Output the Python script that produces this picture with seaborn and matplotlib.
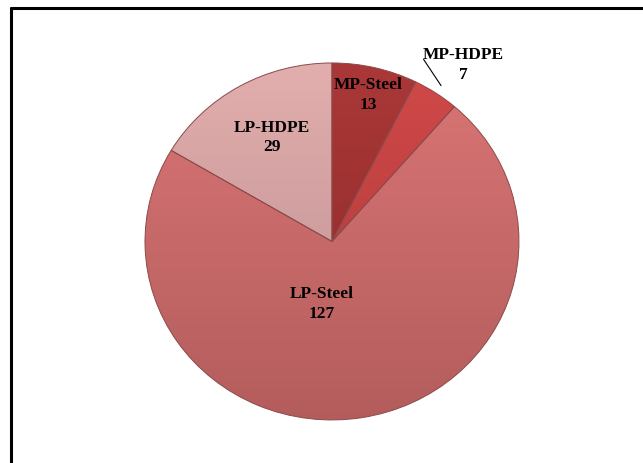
import numpy as np
import matplotlib.pyplot as plt
import matplotlib.colors as mcolors
from matplotlib.lines import Line2D
import seaborn as sns

# Pipe counts by pressure class / material
categories = ['MP-Steel', 'MP-HDPE', 'LP-Steel', 'LP-HDPE']
counts = [13, 7, 127, 29]
colors = ['#A83030', '#D04242', '#DA7070', '#E2ABAB']

# label placement (data coords of the unit pie), layout only
label_pos = [(0.193, 0.822), (0.70, 0.99), (-0.053, -0.35), (-0.321, 0.583)]

sns.set_theme(style='white')
plt.rcParams['font.family'] = ['Liberation Serif', 'DejaVu Serif']

fig = plt.figure(figsize=(6.43, 4.63), dpi=100)
ax = fig.add_axes([0.2255, 0.093, 0.5816, 0.771])

wedges, _ = ax.pie(counts, colors=colors, startangle=90, counterclock=False,
                   wedgeprops=dict(edgecolor='#8a4a4a', linewidth=0.7))

# vertical shading inside each slice
t = np.linspace(0, 1, 256)[:, None, None]
for w, c in zip(wedges, colors):
    rgb = np.array(mcolors.to_rgb(c))
    top = rgb + (1 - rgb) * 0.04
    bot = rgb * 0.82
    grad = top[None, None, :] * (1 - t) + bot[None, None, :] * t
    im = ax.imshow(grad, extent=(-1.05, 1.05, -1.05, 1.05), aspect='auto',
                   origin='upper', zorder=1.5)
    im.set_clip_path(w)
    w.set_facecolor('none')
    w.set_zorder(3)

ax.set_aspect('auto')
ax.set_xlim(-1, 1)
ax.set_ylim(-1, 1)
ax.axis('off')

for i, (name, val) in enumerate(zip(categories, counts)):
    x, y = label_pos[i]
    ax.text(x, y, f'{name}\n{val}', ha='center', va='center', fontsize=12.5,
            fontweight='bold', linespacing=1.3, color='black', zorder=5)
    if name == 'MP-HDPE':
        # leader line from the label to the slice edge
        w = wedges[i]
        mid = np.deg2rad((w.theta1 + w.theta2) / 2)
        ax.plot([x - 0.21, 1.05 * np.cos(mid)], [y + 0.03, 1.05 * np.sin(mid)],
                color='black', lw=0.8, clip_on=False, zorder=5)

# frame lines (top and left) as in the source figure
fig.add_artist(Line2D([0.0171, 1.0], [0.9827, 0.9827], color='black', lw=2.2,
                      transform=fig.transFigure))
fig.add_artist(Line2D([0.0171, 0.0171], [0.0, 0.9827], color='black', lw=2.2,
                      transform=fig.transFigure))

fig.savefig('out.png', dpi=100)
